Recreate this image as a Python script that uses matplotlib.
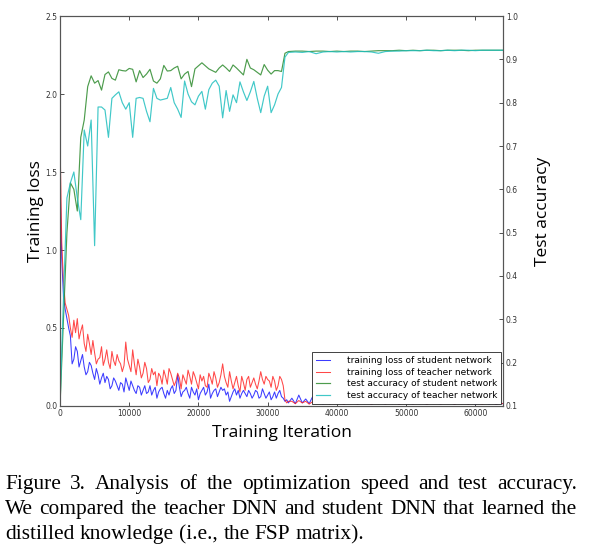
import matplotlib
matplotlib.use("Agg")
import matplotlib.pyplot as plt
import numpy as np

# loss logged every 250 iterations up to 33000, then every 500
loss_iter = np.concatenate([np.arange(0, 33001, 250), np.arange(33500, 64001, 500)])
# accuracy logged every 500 iterations up to 33000, then every 1000
acc_iter = np.concatenate([np.arange(0, 33001, 500), np.arange(34000, 64001, 1000)])

loss_student = [
    1.45, 0.95, 0.70, 0.62, 0.56, 0.50, 0.45, 0.27, 0.30, 0.38,
    0.35, 0.25, 0.29, 0.33, 0.25, 0.20, 0.22, 0.28, 0.26, 0.21,
    0.17, 0.24, 0.20, 0.14, 0.18, 0.21, 0.15, 0.19, 0.17, 0.11,
    0.13, 0.18, 0.16, 0.13, 0.10, 0.15, 0.14, 0.09, 0.18, 0.14,
    0.10, 0.16, 0.13, 0.10, 0.08, 0.13, 0.12, 0.07, 0.10, 0.13,
    0.08, 0.09, 0.13, 0.07, 0.10, 0.12, 0.05, 0.09, 0.11, 0.12,
    0.08, 0.05, 0.10, 0.07, 0.11, 0.13, 0.08, 0.10, 0.20, 0.12,
    0.06, 0.09, 0.10, 0.12, 0.08, 0.05, 0.12, 0.09, 0.07, 0.11,
    0.04, 0.08, 0.10, 0.12, 0.07, 0.09, 0.14, 0.05, 0.08, 0.10,
    0.11, 0.06, 0.09, 0.12, 0.10, 0.11, 0.07, 0.09, 0.03, 0.06,
    0.09, 0.11, 0.07, 0.10, 0.05, 0.08, 0.10, 0.08, 0.06, 0.10,
    0.08, 0.05, 0.07, 0.10, 0.09, 0.05, 0.06, 0.11, 0.08, 0.05,
    0.07, 0.09, 0.04, 0.06, 0.09, 0.05, 0.08, 0.10, 0.06, 0.05,
    0.03, 0.04, 0.02,
    0.05, 0.015, 0.07, 0.02, 0.045, 0.015, 0.06, 0.02, 0.035, 0.012,
    0.04, 0.015, 0.03, 0.02, 0.035, 0.01, 0.025, 0.018, 0.03, 0.012,
    0.028, 0.015, 0.03, 0.01, 0.025, 0.018, 0.022, 0.012, 0.03, 0.015,
    0.025, 0.01, 0.028, 0.015, 0.02, 0.012, 0.03, 0.015, 0.022, 0.01,
    0.025, 0.018, 0.02, 0.012, 0.028, 0.015, 0.022, 0.01, 0.025, 0.015,
    0.02, 0.012, 0.025, 0.01, 0.022, 0.015, 0.02, 0.012, 0.025, 0.01,
    0.018, 0.015,
]
loss_teacher = [
    1.72, 1.05, 0.80, 0.66, 0.62, 0.58, 0.50, 0.44, 0.55, 0.47,
    0.56, 0.43, 0.48, 0.52, 0.40, 0.35, 0.46, 0.40, 0.33, 0.42,
    0.34, 0.27, 0.30, 0.31, 0.38, 0.26, 0.30, 0.36, 0.28, 0.24,
    0.35, 0.29, 0.26, 0.33, 0.29, 0.27, 0.22, 0.26, 0.41, 0.30,
    0.26, 0.22, 0.36, 0.27, 0.20, 0.30, 0.25, 0.18, 0.21, 0.28,
    0.24, 0.15, 0.17, 0.24, 0.20, 0.22, 0.13, 0.21, 0.19, 0.14,
    0.23, 0.19, 0.14, 0.24, 0.21, 0.17, 0.13, 0.16, 0.21, 0.18,
    0.11, 0.20, 0.17, 0.14, 0.23, 0.19, 0.14, 0.22, 0.19, 0.15,
    0.11, 0.20, 0.16, 0.19, 0.13, 0.12, 0.21, 0.18, 0.14, 0.22,
    0.18, 0.12, 0.15, 0.20, 0.27, 0.19, 0.15, 0.12, 0.22, 0.16,
    0.11, 0.15, 0.19, 0.13, 0.09, 0.19, 0.15, 0.10, 0.17, 0.19,
    0.12, 0.15, 0.18, 0.14, 0.11, 0.16, 0.22, 0.17, 0.14, 0.19,
    0.17, 0.16, 0.12, 0.19, 0.16, 0.10, 0.13, 0.19, 0.17, 0.13,
    0.04, 0.02, 0.03,
    0.03, 0.015, 0.035, 0.02, 0.03, 0.012, 0.028, 0.018, 0.032, 0.015,
    0.025, 0.012, 0.03, 0.018, 0.022, 0.01, 0.028, 0.015, 0.02, 0.012,
    0.03, 0.018, 0.022, 0.01, 0.025, 0.015, 0.028, 0.012, 0.02, 0.015,
    0.025, 0.01, 0.022, 0.018, 0.028, 0.012, 0.02, 0.015, 0.025, 0.01,
    0.022, 0.015, 0.028, 0.012, 0.02, 0.018, 0.025, 0.01, 0.022, 0.015,
    0.02, 0.012, 0.025, 0.015, 0.02, 0.01, 0.022, 0.015, 0.025, 0.012,
    0.02, 0.015,
]
acc_student = [
    0.10, 0.30, 0.50, 0.615, 0.600, 0.550, 0.720, 0.760, 0.837, 0.862,
    0.845, 0.851, 0.829, 0.865, 0.871, 0.856, 0.852,
    0.876, 0.874, 0.873, 0.879, 0.877, 0.848, 0.874, 0.858, 0.866, 0.877,
    0.850, 0.845, 0.855, 0.886, 0.873, 0.874, 0.880, 0.884, 0.855, 0.866,
    0.872, 0.837, 0.878,
    0.885, 0.892, 0.885, 0.878, 0.874, 0.870, 0.880, 0.887, 0.880, 0.872,
    0.887, 0.880, 0.872, 0.864, 0.900, 0.880, 0.876, 0.870, 0.864, 0.888,
    0.875, 0.866, 0.874, 0.874, 0.872, 0.914, 0.918,
    0.919, 0.919, 0.918, 0.919, 0.919, 0.918, 0.919, 0.918, 0.919, 0.919,
    0.918, 0.919, 0.920, 0.920, 0.920, 0.921, 0.920, 0.921, 0.920, 0.921,
    0.921, 0.920, 0.921, 0.921, 0.921, 0.920, 0.921, 0.921, 0.921, 0.921,
    0.921,
]
acc_teacher = [
    0.10, 0.35, 0.58, 0.615, 0.64, 0.58, 0.53, 0.737, 0.70, 0.76,
    0.47, 0.79, 0.79, 0.783, 0.72, 0.81, 0.818, 0.825, 0.80, 0.785,
    0.80, 0.72, 0.81, 0.812, 0.81, 0.78, 0.756, 0.833, 0.81, 0.806,
    0.808, 0.81, 0.835,
    0.80, 0.785, 0.766, 0.85, 0.82, 0.802, 0.795, 0.815, 0.826, 0.785,
    0.83, 0.845, 0.852, 0.838, 0.765, 0.828, 0.78, 0.818, 0.80, 0.848,
    0.825, 0.805, 0.825, 0.849, 0.81, 0.777, 0.815, 0.838, 0.777, 0.795,
    0.82, 0.835, 0.905, 0.916,
    0.917, 0.916, 0.918, 0.913, 0.917, 0.918, 0.917, 0.918, 0.917, 0.918,
    0.918, 0.917, 0.914, 0.918, 0.919, 0.919, 0.920, 0.920, 0.920, 0.921,
    0.920, 0.920, 0.921, 0.920, 0.921, 0.921, 0.920, 0.921, 0.921, 0.921,
    0.921,
]

legend_labels = [
    "training loss of student network",
    "training loss of teacher network",
    "test accuracy of student network",
    "test accuracy of teacher network",
]

caption_lines = [
    "Figure 3. Analysis of the optimization speed and test accuracy.",
    "We compared the teacher DNN and student DNN that learned the",
    "distilled knowledge (i.e., the FSP matrix).",
]

SPINE = "#555555"
TICK_FS = 5.5
LABEL_FONT = ["Open Sans", "DejaVu Sans"]
CAPTION_FONT = ["Liberation Serif", "DejaVu Serif"]

fig = plt.figure(figsize=(5.9, 5.52), dpi=100)
ax = fig.add_axes([0.1017, 0.2645, 0.7508, 0.7065])
ax2 = ax.twinx()

l1, = ax.plot(loss_iter, loss_student, color="#1a1aff", lw=0.75, alpha=0.85)
l2, = ax.plot(loss_iter, loss_teacher, color="#ff1a1a", lw=0.75, alpha=0.8)
l3, = ax2.plot(acc_iter, acc_student, color="#2e8b2e", lw=0.85, alpha=0.85)
l4, = ax2.plot(acc_iter, acc_teacher, color="#20bfbf", lw=0.85, alpha=0.85)

ax.set_xlim(0, 64000)
ax.set_ylim(0, 2.5)
ax2.set_ylim(0.1, 1.0)
ax.set_xticks(np.arange(0, 60001, 10000))
ax.set_yticks(np.arange(0, 2.51, 0.5))
ax2.set_yticks(np.arange(0.1, 1.01, 0.1))
ax2.set_yticklabels([f"{v:.1f}" for v in np.arange(0.1, 1.01, 0.1)])

ax.tick_params(direction="in", top=True, right=False, labelsize=TICK_FS,
               colors="#333333", length=3, width=0.6, pad=2)
ax2.tick_params(direction="in", labelsize=TICK_FS, colors="#333333",
                length=3, width=0.6, pad=2)
for a in (ax, ax2):
    for s in a.spines.values():
        s.set_color(SPINE)
        s.set_linewidth(0.8)

ax.set_ylabel("Training loss", family=LABEL_FONT, fontsize=12.5, labelpad=1)
ax2.set_ylabel("Test accuracy", family=LABEL_FONT, fontsize=12.5, labelpad=12)
ax.set_xlabel("Training Iteration", family=LABEL_FONT, fontsize=12.5, labelpad=5)

leg = ax2.legend([l1, l2, l3, l4], legend_labels, loc="lower right",
                 fontsize=6.5, handlelength=1.6, handletextpad=1.8,
                 borderaxespad=0.25, labelspacing=0.3, fancybox=False,
                 framealpha=1.0, edgecolor="#222222")
leg.get_frame().set_linewidth(0.6)

# justified caption below the plot; font sized so the second line nearly fills the width
renderer = fig.canvas.get_renderer()
W, H = fig.bbox.width, fig.bbox.height
x_left, x_right = 5.0, 577.0
baselines = [489, 514, 539]
probe = fig.text(0, 0, caption_lines[1], fontsize=14, family=CAPTION_FONT)
cap_fs = 14 * (x_right - x_left - 8) / probe.get_window_extent(renderer).width
probe.remove()
for i, (line, base) in enumerate(zip(caption_lines, baselines)):
    words = line.split(" ")
    texts = [fig.text(0, 1 - base / H, w, fontsize=cap_fs, family=CAPTION_FONT,
                      va="baseline", ha="left") for w in words]
    widths = [t.get_window_extent(renderer).width for t in texts]
    if i == len(caption_lines) - 1:
        gap = cap_fs * 0.25 * fig.dpi / 72
    else:
        gap = (x_right - x_left - sum(widths)) / (len(words) - 1)
    x = x_left
    for t, w in zip(texts, widths):
        t.set_x(x / W)
        x += w + gap

fig.savefig("out.png", dpi=100)
